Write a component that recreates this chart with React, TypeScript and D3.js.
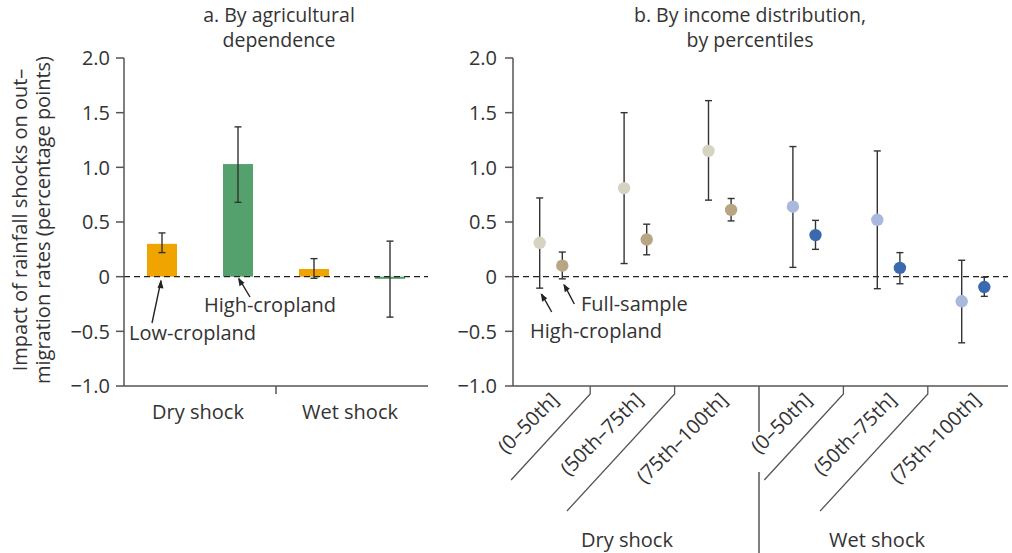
import React from "react";
import * as d3 from "d3";

// ---------- Data ----------
const shockTypes = ["Dry shock", "Wet shock"];
const cropGroups = ["Low-cropland", "High-cropland"];
// panel a: by agricultural dependence
const lowCroplandEst = [0.3, 0.07];
const lowCroplandLo = [0.22, -0.015];
const lowCroplandHi = [0.4, 0.165];
const highCroplandEst = [1.03, -0.02];
const highCroplandLo = [0.68, -0.37];
const highCroplandHi = [1.37, 0.325];

// panel b: by income distribution (percentiles)
const percentileBins = ["(0–50th]", "(50th–75th]", "(75th–100th]"];
const highCropDryEst = [0.31, 0.81, 1.15];
const highCropDryLo = [-0.105, 0.12, 0.7];
const highCropDryHi = [0.72, 1.5, 1.61];
const fullDryEst = [0.1, 0.34, 0.61];
const fullDryLo = [-0.02, 0.2, 0.51];
const fullDryHi = [0.225, 0.48, 0.715];
const highCropWetEst = [0.64, 0.52, -0.225];
const highCropWetLo = [0.085, -0.11, -0.605];
const highCropWetHi = [1.19, 1.15, 0.15];
const fullWetEst = [0.38, 0.08, -0.095];
const fullWetLo = [0.25, -0.065, -0.18];
const fullWetHi = [0.515, 0.22, -0.005];

const yTicks = [-1, -0.5, 0, 0.5, 1, 1.5, 2];

// ---------- Styles ----------
const FONT = "'Open Sans', 'Noto Sans', sans-serif";
const FS = 20;
const TEXT = "#333333";
const AXIS = "#555555";
const ERR = "#333333";
const colOrange = "#f0a400";
const colGreen = "#55a16e";
const colDryHigh = "#d6d3c1";
const colDryFull = "#b8a583";
const colWetHigh = "#a9b8dd";
const colWetFull = "#3a69b0";

const fmt = (v: number) =>
  v === 0 ? "0" : (v < 0 ? "\u2212" : "") + Math.abs(v).toFixed(1);

const W = 1012;
const H = 553;

export default function App() {
  const y = d3.scaleLinear().domain([-1, 2]).range([386, 58]);
  const y0 = y(0);

  // Panel a
  const axA = 124;
  const axAEnd = 428;
  const xA = d3.scaleBand<string>().domain(shockTypes).range([axA, axAEnd]);
  const xAInner = d3
    .scaleBand<string>()
    .domain(cropGroups)
    .range([0, xA.bandwidth()])
    .paddingInner(0.605)
    .paddingOuter(0.3025);

  const barsA = shockTypes.flatMap((s, i) => [
    { s, g: cropGroups[0], est: lowCroplandEst[i], lo: lowCroplandLo[i], hi: lowCroplandHi[i], c: colOrange },
    { s, g: cropGroups[1], est: highCroplandEst[i], lo: highCroplandLo[i], hi: highCroplandHi[i], c: colGreen },
  ]);

  // Panel b
  const axB = 513;
  const axBEnd = 1008;
  const keysB = shockTypes.flatMap((s) => percentileBins.map((b) => s + "|" + b));
  const xB = d3.scalePoint<string>().domain(keysB).range([551, 973]);
  const stepB = xB.step();
  const off = 11.3;
  const pts: any[] = [];
  percentileBins.forEach((b, i) => {
    pts.push({ k: "Dry shock|" + b, d: -off, est: highCropDryEst[i], lo: highCropDryLo[i], hi: highCropDryHi[i], c: colDryHigh });
    pts.push({ k: "Dry shock|" + b, d: off, est: fullDryEst[i], lo: fullDryLo[i], hi: fullDryHi[i], c: colDryFull });
    pts.push({ k: "Wet shock|" + b, d: -off, est: highCropWetEst[i], lo: highCropWetLo[i], hi: highCropWetHi[i], c: colWetHigh });
    pts.push({ k: "Wet shock|" + b, d: off, est: fullWetEst[i], lo: fullWetLo[i], hi: fullWetHi[i], c: colWetFull });
  });

  const cap = 3.5;
  const errBar = (cx: number, lo: number, hi: number, key: string) => (
    <g key={key} stroke={ERR} strokeWidth={1.4}>
      <line x1={cx} x2={cx} y1={y(lo)} y2={y(hi)} />
      <line x1={cx - cap} x2={cx + cap} y1={y(lo)} y2={y(lo)} />
      <line x1={cx - cap} x2={cx + cap} y1={y(hi)} y2={y(hi)} />
    </g>
  );

  const yAxis = (ax: number, labelX: number) => (
    <g>
      <line x1={ax} x2={ax} y1={y(2)} y2={y(-1)} stroke={AXIS} strokeWidth={1.5} />
      {yTicks.map((t) => (
        <g key={t}>
          <line x1={ax - 8} x2={ax} y1={y(t)} y2={y(t)} stroke={AXIS} strokeWidth={1.5} />
          <text x={labelX} y={y(t)} dy="0.36em" textAnchor="end" fontSize={FS} fill={TEXT}>
            {fmt(t)}
          </text>
        </g>
      ))}
    </g>
  );

  // x-axis tick positions between groups for panel b
  const tickB = keysB.slice(0, -1).map((k) => (xB(k) as number) + stepB / 2 - 3);
  const sepIdx = percentileBins.length - 1; // separator between shock types
  const tickBottom = 394;
  const diagLen = [86, 117];
  const slope = 0.92;

  return (
    <svg
      width={W}
      height={H}
      style={{ position: "absolute", left: 0, top: 0, background: "#fff" }}
      fontFamily={FONT}
    >
      {/* Titles */}
      <text x={279} y={22} textAnchor="middle" fontSize={FS - 0.5} fill={TEXT}>a. By agricultural</text>
      <text x={279} y={47} textAnchor="middle" fontSize={FS - 0.5} fill={TEXT}>dependence</text>
      <text x={750} y={22} textAnchor="middle" fontSize={FS - 0.5} fill={TEXT}>b. By income distribution,</text>
      <text x={750} y={47} textAnchor="middle" fontSize={FS - 0.5} fill={TEXT}>by percentiles</text>

      {/* Y label */}
      <g transform={`translate(0, 220) rotate(-90)`}>
        <text x={0} y={27} textAnchor="middle" fontSize={FS} fill={TEXT}>Impact of rainfall shocks on out–</text>
        <text x={0} y={50} textAnchor="middle" fontSize={FS} fill={TEXT}>migration rates (percentage points)</text>
      </g>

      {/* ---------- Panel a ---------- */}
      {barsA.map((b, i) => {
        const x0 = (xA(b.s) as number) + (xAInner(b.g) as number);
        return (
          <rect
            key={"bar" + i}
            x={x0}
            width={xAInner.bandwidth()}
            y={Math.min(y(b.est), y0)}
            height={Math.abs(y(b.est) - y0)}
            fill={b.c}
          />
        );
      })}
      <line x1={axA} x2={axAEnd} y1={y0} y2={y0} stroke="#222" strokeWidth={1.3} strokeDasharray="6,4" />
      {barsA.map((b, i) => {
        const cx = (xA(b.s) as number) + (xAInner(b.g) as number) + xAInner.bandwidth() / 2;
        return errBar(cx, b.lo, b.hi, "ea" + i);
      })}
      {yAxis(axA, 110)}
      <line x1={axA} x2={axAEnd} y1={y(-1)} y2={y(-1)} stroke={AXIS} strokeWidth={1.5} />
      <line
        x1={(xA(shockTypes[1]) as number)}
        x2={(xA(shockTypes[1]) as number)}
        y1={y(-1)}
        y2={tickBottom}
        stroke={AXIS}
        strokeWidth={1.5}
      />
      {shockTypes.map((s) => (
        <text key={s} x={(xA(s) as number) + xA.bandwidth() / 2 - 2} y={419} textAnchor="middle" fontSize={FS} fill={TEXT}>
          {s}
        </text>
      ))}
      {/* annotations a */}
      {(() => {
        const lowX = (xA(shockTypes[0]) as number) + (xAInner(cropGroups[0]) as number) + xAInner.bandwidth() / 2;
        const highX = (xA(shockTypes[0]) as number) + (xAInner(cropGroups[1]) as number) + xAInner.bandwidth() / 2;
        return (
          <g>
            <line x1={lowX - 10} y1={323} x2={lowX - 1} y2={y0 + 4} stroke="#222" strokeWidth={1.4} />
            <path d={`M${lowX - 1},${y0 + 3} l-3.5,8 l6,0.8 z`} fill="#222" />
            <line x1={highX + 12} y1={297} x2={highX + 1} y2={y0 + 2} stroke="#222" strokeWidth={1.4} />
            <path d={`M${highX},${y0 + 1} l1.5,8.5 l5,-3.5 z`} fill="#222" />
            <text x={129} y={340} fontSize={FS} fill={TEXT}>Low-cropland</text>
            <text x={204} y={312} fontSize={FS} fill={TEXT}>High-cropland</text>
          </g>
        );
      })()}

      {/* ---------- Panel b ---------- */}
      <line x1={axB} x2={axBEnd} y1={y0} y2={y0} stroke="#222" strokeWidth={1.3} strokeDasharray="6,4" />
      {pts.map((p, i) => {
        const cx = (xB(p.k) as number) + p.d;
        return (
          <g key={"p" + i}>
            {errBar(cx, p.lo, p.hi, "eb" + i)}
            <circle cx={cx} cy={y(p.est)} r={6.2} fill={p.c} />
          </g>
        );
      })}
      {yAxis(axB, 497)}
      <line x1={axB} x2={axBEnd} y1={y(-1)} y2={y(-1)} stroke={AXIS} strokeWidth={1.5} />
      {/* category ticks & dividers */}
      {tickB.map((tx, i) => {
        if (i === sepIdx) {
          return (
            <g key={"t" + i} stroke={AXIS} strokeWidth={1.5}>
              <line x1={tx} x2={tx} y1={y(-1)} y2={432} />
              <line x1={tx} x2={tx} y1={472} y2={H} />
            </g>
          );
        }
        const len = diagLen[i % 3];
        return (
          <g key={"t" + i} stroke={AXIS} strokeWidth={1.3} fill="none">
            <polyline points={`${tx},${y(-1)} ${tx},${tickBottom} ${tx - len * slope},${tickBottom + len}`} />
          </g>
        );
      })}
      {keysB.map((k) => {
        const cx = xB(k) as number;
        const label = k.split("|")[1];
        return (
          <text
            key={"l" + k}
            transform={`translate(${cx + 9},${401}) rotate(-45)`}
            textAnchor="end"
            fontSize={FS}
            fill={TEXT}
          >
            {label}
          </text>
        );
      })}
      <text x={627} y={547} textAnchor="middle" fontSize={FS} fill={TEXT}>Dry shock</text>
      <text x={877} y={547} textAnchor="middle" fontSize={FS} fill={TEXT}>Wet shock</text>
      {/* annotations b */}
      {(() => {
        const k0 = keysB[0];
        const hx = (xB(k0) as number) - off;
        const fx = (xB(k0) as number) + off;
        return (
          <g>
            <line x1={fx + 12} y1={304} x2={fx + 2} y2={y(fullDryLo[0]) + 6} stroke="#222" strokeWidth={1.4} />
            <path d={`M${fx + 1},${y(fullDryLo[0]) + 5} l1.5,8.5 l5,-3.5 z`} fill="#222" />
            <line x1={hx + 12} y1={312} x2={hx + 2} y2={y(highCropDryLo[0]) + 6} stroke="#222" strokeWidth={1.4} />
            <path d={`M${hx + 1},${y(highCropDryLo[0]) + 5} l1.5,8.5 l5,-3.5 z`} fill="#222" />
            <text x={581} y={311} fontSize={FS} fill={TEXT}>Full-sample</text>
            <text x={530} y={338} fontSize={FS} fill={TEXT}>High-cropland</text>
          </g>
        );
      })()}
    </svg>
  );
}
